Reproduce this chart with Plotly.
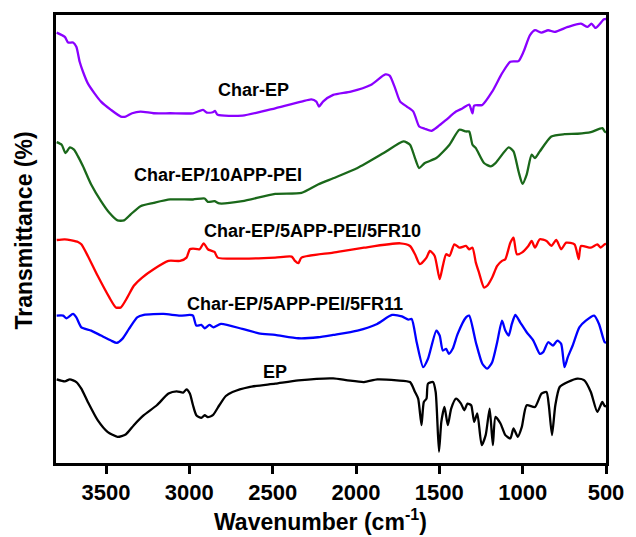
import plotly.graph_objects as go

# ---- data (wavenumber in cm-1, transmittance in arbitrary offset units) ----
char_ep_wn = [3796, 3747, 3727, 3698, 3678, 3658, 3638, 3609, 3569, 3530, 3470, 3411, 3382, 3343, 3293, 3214, 3115,
              2978, 2918, 2895, 2859, 2846, 2830, 2682, 2485, 2327, 2268, 2238, 2222, 2198, 2137, 2031, 1912, 1824,
              1798, 1765, 1735, 1695, 1656, 1621, 1587, 1547, 1508, 1459, 1400, 1360, 1321, 1301, 1291, 1242, 1183,
              1124, 1074, 1025, 995, 956, 926, 887, 847, 808, 729, 650, 611, 587, 562, 512, 500]
char_ep_t = [432.3, 428, 422.3, 422.3, 418, 403, 393, 381.3, 371.3, 363, 354.7, 348, 348, 351.3, 353, 351.3, 351.3,
             351.3, 354.7, 352, 352.3, 353.7, 349.7, 349, 356.3, 363, 365.3, 363, 358, 363, 369.7, 373, 379.7, 390.3,
             389, 376.3, 363, 358, 353, 338, 335.7, 333.7, 338, 344.7, 353, 356.3, 360, 351.3, 359, 359.7, 373,
             391.3, 403, 403.7, 413, 429.7, 434.7, 432.3, 434.7, 433, 438, 441.3, 438, 441.3, 437, 445.7, 446]

app_pei_wn = [3796, 3766, 3743, 3717, 3692, 3668, 3638, 3589, 3530, 3480, 3431, 3392, 3352, 3293, 3214, 3115, 2978,
              2908, 2889, 2849, 2820, 2682, 2485, 2327, 2228, 2137, 1991, 1834, 1715, 1676, 1646, 1621, 1587, 1518,
              1439, 1380, 1340, 1321, 1301, 1281, 1232, 1192, 1163, 1084, 1055, 1025, 1001, 976, 946, 926, 897, 828,
              749, 670, 591, 522, 508, 500]
app_pei_t = [322.3, 319.7, 311.3, 317, 314.7, 308, 298, 279.7, 263, 251.3, 243.7, 243.7, 249.7, 258, 261.3, 264.7,
             264.7, 265.7, 262.3, 263, 260.7, 263, 270.3, 271.3, 279.7, 286, 296.3, 311.3, 323, 319.7, 306.3, 296.3,
             301.3, 306.3, 319.7, 334.7, 333, 333, 319.7, 316.3, 301.3, 298, 301.3, 317, 313, 293, 280.3, 289.7,
             309.7, 306.3, 313, 328, 330.3, 330.7, 332.3, 336.3, 333, 332]

fr10_wn = [3796, 3747, 3668, 3648, 3609, 3550, 3480, 3441, 3411, 3372, 3333, 3283, 3214, 3125, 3056, 3017, 2997,
           2978, 2938, 2914, 2889, 2849, 2830, 2682, 2485, 2386, 2366, 2346, 2327, 2137, 1952, 1735, 1676, 1646,
           1617, 1577, 1557, 1528, 1498, 1479, 1459, 1439, 1410, 1380, 1340, 1321, 1301, 1281, 1262, 1232, 1213,
           1183, 1153, 1124, 1104, 1074, 1055, 1035, 1005, 966, 946, 926, 897, 857, 828, 798, 769, 739, 689, 664,
           650, 591, 552, 532, 508, 500]
fr10_t = [224, 224.7, 222, 219.7, 208, 188, 166.3, 156.3, 156.3, 166.3, 178, 186.3, 194.7, 203, 203, 206.3, 214.7,
          215.3, 214.7, 220.7, 214.7, 212, 206.3, 205.3, 206.3, 207.3, 203, 200.7, 206.3, 211.3, 216.3, 220.7, 218,
          209.7, 199.7, 206.3, 213, 208, 184.7, 198, 209.7, 208, 219.7, 216.3, 218, 214.7, 216.3, 201.3, 191.3,
          176.3, 178, 186.3, 198, 203, 204.7, 221.3, 226.3, 209.7, 211.3, 218, 223, 216.3, 224.7, 223, 218, 224,
          214.7, 221.3, 219.7, 204.7, 218, 216.3, 219.7, 216.3, 219.7, 220]

fr11_wn = [3796, 3757, 3737, 3698, 3678, 3648, 3589, 3530, 3470, 3435, 3402, 3362, 3313, 3273, 3155, 3056, 2997,
           2978, 2958, 2928, 2908, 2879, 2855, 2810, 2682, 2583, 2485, 2346, 2228, 2137, 1991, 1873, 1784, 1725,
           1686, 1666, 1636, 1597, 1568, 1518, 1498, 1479, 1459, 1443, 1420, 1390, 1340, 1321, 1281, 1242, 1213,
           1183, 1153, 1124, 1104, 1084, 1065, 1044, 1015, 976, 936, 897, 877, 847, 818, 792, 769, 749, 729, 700,
           660, 621, 571, 542, 508, 500]
fr11_t = [148, 148, 145.3, 149.7, 146.3, 136.3, 133, 128, 123, 120.7, 124.7, 134.7, 146.3, 148.7, 149.7, 148, 148.7,
          148, 138, 138.7, 135.3, 138.7, 136.3, 139.7, 134.7, 130.3, 128.7, 125.3, 126.3, 128.7, 133, 139.7, 148.7,
          147.3, 144, 144.7, 121.3, 96.3, 104.7, 133, 128, 113, 114.7, 109.7, 114.7, 129.7, 146.3, 148, 121.3, 99.7,
          94.7, 101.3, 121.3, 143, 133, 128, 139.7, 148.7, 141.3, 131.3, 123, 109.7, 111.3, 121.3, 118, 123, 119.7,
          96.3, 106.3, 118, 136.3, 143, 148, 139.7, 121.3, 121]

ep_wn = [3796, 3747, 3717, 3678, 3648, 3609, 3550, 3491, 3431, 3382, 3333, 3273, 3195, 3125, 3076, 3037, 3017, 2997,
         2978, 2958, 2928, 2908, 2889, 2859, 2820, 2781, 2741, 2642, 2485, 2346, 2137, 2050, 1952, 1873, 1755, 1676,
         1646, 1627, 1607, 1593, 1577, 1568, 1538, 1522, 1502, 1488, 1469, 1449, 1429, 1400, 1370, 1350, 1331, 1309,
         1301, 1291, 1272, 1246, 1222, 1198, 1179, 1163, 1133, 1104, 1074, 1055, 1029, 1005, 976, 926, 887, 857, 843,
         824, 804, 778, 729, 670, 630, 591, 552, 522, 508, 500]
ep_t = [84, 82, 84, 81.3, 74.7, 61.3, 43, 31.3, 26.3, 28.7, 38, 48, 58, 69.7, 72, 70.7, 74, 69.7,
        58, 48, 45.3, 48, 46, 48, 58, 67.3, 71.3, 76.3, 79.7, 83, 85, 83, 81.3, 84, 83, 81.3,
        71.3, 64.7, 38, 61.3, 64.7, 79.7, 81.3, 71.3, 11.3, 41.3, 56.3, 38, 54.7, 64.7, 59.7, 53, 59.7, 58,
        51.3, 41.3, 49.7, 18, 28, 54.7, 18, 46.3, 39.7, 28, 24.7, 34.7, 26.3, 36.3, 58, 56.3, 69.7, 71.3, 58,
        28, 58, 76.3, 81.3, 84.7, 83, 71.3, 51.3, 61.3, 57.3, 57]

series_names = ["Char-EP", "Char-EP/10APP-PEI", "Char-EP/5APP-PEI/5FR10", "Char-EP/5APP-PEI/5FR11", "EP"]
x_ticks = [3500, 3000, 2500, 2000, 1500, 1000, 500]

series = [
    (char_ep_wn, char_ep_t, "#8a00ff"),
    (app_pei_wn, app_pei_t, "#1a681a"),
    (fr10_wn, fr10_t, "#ff0000"),
    (fr11_wn, fr11_t, "#0000ff"),
    (ep_wn, ep_t, "#000000"),
]

FONT = "Arial, 'Liberation Sans', sans-serif"

fig = go.Figure()
for name, (wn, t, col) in zip(series_names, series):
    fig.add_trace(go.Scatter(x=wn, y=t, mode="lines", name=name,
                             line=dict(color=col, width=2.3, shape="spline", smoothing=0.6),
                             showlegend=False))

# curve labels (wavenumber, transmittance positions)
label_pos = [(2618, 374.7), (2827, 289.7), (2260, 233), (2365, 159.7), (2488, 91.3)]
for name, (lx, ly) in zip(series_names, label_pos):
    fig.add_annotation(x=lx, y=ly, xref="x", yref="y", text=name, showarrow=False,
                       font=dict(family=FONT, size=18, color="black", weight="bold"))

fig.add_annotation(xref="paper", yref="paper", x=0.481, y=-0.127, text="Wavenumber (cm<sup>-1</sup>)",
                   showarrow=False, xanchor="center", yanchor="middle",
                   font=dict(family=FONT, size=23, color="black", weight="bold"))
fig.add_annotation(xref="paper", yref="paper", x=-0.0573, y=0.52, text="Transmittance (%)", textangle=-90,
                   showarrow=False, xanchor="center", yanchor="middle",
                   font=dict(family=FONT, size=23, color="black", weight="bold"))

fig.update_layout(
    width=636, height=537,
    margin=dict(l=56, r=22, t=13, b=74),
    plot_bgcolor="white", paper_bgcolor="white",
    font=dict(family=FONT, color="black"),
)
fig.update_xaxes(range=[3800, 500], tickvals=x_ticks, ticks="outside", ticklen=8, tickwidth=2.5,
                 tickcolor="black", showline=True, linecolor="black", linewidth=3, mirror=True,
                 showgrid=False, zeroline=False,
                 tickfont=dict(family=FONT, size=22, color="black", weight="bold"))
fig.update_yaxes(range=[0, 450], showticklabels=False, ticks="", showline=True, linecolor="black",
                 linewidth=3, mirror=True, showgrid=False, zeroline=False)

fig.write_html("out.html")
